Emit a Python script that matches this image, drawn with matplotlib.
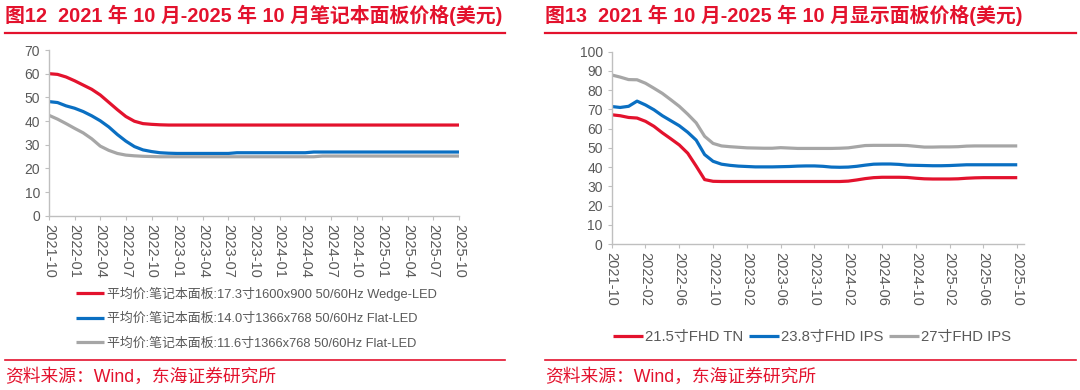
import matplotlib
matplotlib.use('Agg')
import matplotlib.pyplot as plt
from matplotlib.lines import Line2D
import numpy as np
import pandas as pd

plt.rcParams['font.family'] = ['Liberation Sans', 'Noto Sans CJK SC', 'DejaVu Sans']

# months 2021-10 ... 2025-10
months = pd.date_range('2021-10-01', '2025-10-01', freq='MS').strftime('%Y-%m').tolist()

# 图12 笔记本面板价格
nb_17 = [60.0, 59.7, 58.6, 57.0, 55.2, 53.4, 51.0, 47.9, 44.8, 41.9, 39.9, 38.9,
         38.6, 38.4, 38.3, 38.3, 38.3, 38.3, 38.3, 38.3, 38.3, 38.3, 38.3, 38.3,
         38.3, 38.3, 38.3, 38.3, 38.3, 38.3, 38.3, 38.3, 38.3, 38.3, 38.3, 38.3,
         38.3, 38.3, 38.3, 38.3, 38.3, 38.3, 38.3, 38.3, 38.3, 38.3, 38.3, 38.3, 38.3]
nb_14 = [48.2, 47.8, 46.4, 45.4, 44.0, 42.2, 40.1, 37.5, 34.3, 31.5, 29.2, 27.8,
         27.1, 26.6, 26.4, 26.3, 26.3, 26.3, 26.3, 26.3, 26.3, 26.3, 26.6, 26.6,
         26.6, 26.6, 26.6, 26.6, 26.6, 26.6, 26.6, 26.9, 26.9, 26.9, 26.9, 26.9,
         26.9, 26.9, 26.9, 26.9, 26.9, 26.9, 26.9, 26.9, 26.9, 26.9, 26.9, 26.9, 26.9]
nb_116 = [42.4, 40.8, 38.9, 36.9, 35.0, 32.5, 29.4, 27.6, 26.3, 25.6, 25.3, 25.1,
          25.0, 24.9, 24.9, 24.9, 24.9, 24.9, 24.9, 24.9, 24.9, 24.9, 24.9, 24.9,
          24.9, 24.9, 24.9, 24.9, 24.9, 24.9, 24.9, 24.9, 25.2, 25.2, 25.2, 25.2,
          25.2, 25.2, 25.2, 25.2, 25.2, 25.2, 25.2, 25.2, 25.2, 25.2, 25.2, 25.2, 25.2]
nb_labels = ['平均价:笔记本面板:17.3寸1600x900 50/60Hz Wedge-LED',
             '平均价:笔记本面板:14.0寸1366x768 50/60Hz Flat-LED',
             '平均价:笔记本面板:11.6寸1366x768 50/60Hz Flat-LED']

# 图13 显示面板价格
mon_215 = [67.2, 66.7, 65.8, 65.5, 63.8, 61.2, 57.8, 54.7, 51.5, 47.2, 40.5, 33.5,
           32.6, 32.5, 32.5, 32.5, 32.5, 32.5, 32.5, 32.5, 32.5, 32.5, 32.5, 32.5,
           32.5, 32.5, 32.5, 32.5, 32.7, 33.3, 34.0, 34.5, 34.7, 34.7, 34.7, 34.6,
           34.2, 33.9, 33.8, 33.8, 33.8, 33.9, 34.2, 34.4, 34.5, 34.5, 34.5, 34.5, 34.5]
mon_238 = [71.5, 71.0, 71.6, 74.3, 72.3, 69.8, 66.7, 64.1, 61.5, 58.1, 54.0, 46.5,
           43.0, 41.5, 40.9, 40.5, 40.3, 40.1, 40.1, 40.1, 40.2, 40.3, 40.5, 40.6,
           40.6, 40.4, 40.0, 39.9, 40.0, 40.4, 41.0, 41.5, 41.6, 41.6, 41.4, 41.0,
           40.9, 40.8, 40.7, 40.7, 40.8, 41.0, 41.2, 41.2, 41.2, 41.2, 41.2, 41.2, 41.2]
mon_27 = [87.9, 86.8, 85.5, 85.4, 83.6, 81.0, 78.3, 75.0, 71.6, 67.5, 63.0, 56.0,
          52.3, 51.0, 50.6, 50.3, 50.0, 49.9, 49.8, 49.8, 50.1, 49.9, 49.7, 49.7,
          49.7, 49.7, 49.7, 49.8, 50.0, 50.6, 51.2, 51.3, 51.3, 51.3, 51.3, 51.2,
          50.8, 50.4, 50.4, 50.5, 50.5, 50.6, 50.9, 51.0, 51.0, 51.0, 51.0, 51.0, 51.0]
mon_labels = ['21.5寸FHD TN', '23.8寸FHD IPS', '27寸FHD IPS']

red = '#e3122d'
blue = '#0a6fc2'
gray = '#a6a6a6'
txt_gray = '#595959'
axis_gray = '#bfbfbf'

W, H = 1080, 390
fig = plt.figure(figsize=(W / 100, H / 100), dpi=100)


def fx(px):
	return px / W


def fy(py):
	return 1 - py / H


def style_axes(ax, step, ymax, ystep, xmax):
	x = np.arange(len(months))
	ax.set_xlim(0, xmax)
	ax.set_ylim(0, ymax)
	ax.set_xticks(x[::step])
	ax.set_xticklabels(months[::step], rotation=-90, fontsize=10.5, color=txt_gray)
	ax.set_yticks(np.arange(0, ymax + 1, ystep))
	ax.tick_params(axis='y', labelsize=10, labelcolor=txt_gray, color=axis_gray, length=3, width=0.8)
	ax.tick_params(axis='x', color=axis_gray, length=3, width=0.8, pad=3)
	for s in ['top', 'right']:
		ax.spines[s].set_visible(False)
	for s in ['left', 'bottom']:
		ax.spines[s].set_color(axis_gray)
		ax.spines[s].set_linewidth(1.0)


# left panel
ax1 = fig.add_axes([fx(49), fy(215.7), fx(459 - 49), fy(50) - fy(215.7)])
x = np.arange(len(months))
for vals, c, lab in zip([nb_17, nb_14, nb_116], [red, blue, gray], nb_labels):
	ax1.plot(x, vals, color=c, lw=2.3, label=lab, solid_capstyle='butt')
style_axes(ax1, 3, 70, 10, 48)
leg1 = fig.legend(*ax1.get_legend_handles_labels(), loc='upper left',
				  bbox_to_anchor=(fx(76), fy(286.5)), frameon=False, fontsize=9.3,
				  handlelength=2.2, handletextpad=0.2, labelspacing=0.95, borderpad=0,
				  borderaxespad=0)
for t in leg1.get_texts():
	t.set_color(txt_gray)

# right panel
ax2 = fig.add_axes([fx(611.7), fy(244), fx(1024 - 611.7), fy(51.7) - fy(244)])
for vals, c, lab in zip([mon_215, mon_238, mon_27], [red, blue, gray], mon_labels):
	ax2.plot(x, vals, color=c, lw=2.3, label=lab, solid_capstyle='butt')
style_axes(ax2, 4, 100, 10, 48.8)
leg2 = fig.legend(*ax2.get_legend_handles_labels(), loc='upper left', ncol=3,
				  bbox_to_anchor=(fx(613), fy(330)), frameon=False, fontsize=10.7,
				  handlelength=2.0, handletextpad=0.15, columnspacing=0.4, borderpad=0,
				  borderaxespad=0)
for t in leg2.get_texts():
	t.set_color(txt_gray)

# titles, rules and sources
titles = ['图12  2021 年 10 月-2025 年 10 月笔记本面板价格(美元)',
		  '图13  2021 年 10 月-2025 年 10 月显示面板价格(美元)']
for x0, x1, title in [(5, 505, titles[0]), (545, 1076, titles[1])]:
	fig.text(fx(x0), fy(15), title, fontsize=14.3, fontweight='bold', color=red, va='center', ha='left')
	fig.add_artist(Line2D([fx(x0), fx(x1)], [fy(32.5), fy(32.5)], color=red, lw=1.6))
	fig.add_artist(Line2D([fx(x0), fx(x1)], [fy(360), fy(360)], color=red, lw=1.2))
	fig.text(fx(x0), fy(377), '资料来源：Wind，东海证券研究所', fontsize=12.8, color=red, va='center', ha='left')

fig.savefig('out.png', dpi=100)
